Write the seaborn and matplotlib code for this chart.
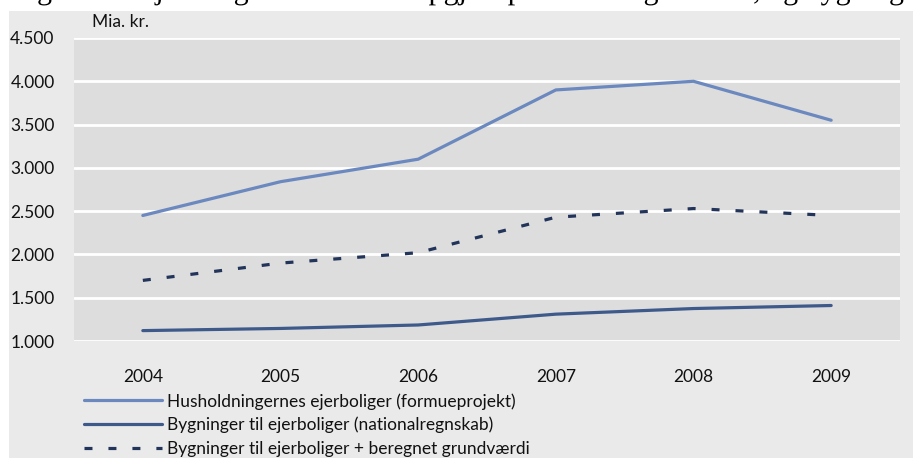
import matplotlib
matplotlib.use("Agg")
import matplotlib.pyplot as plt
from matplotlib.patches import Rectangle, PathPatch
from matplotlib.lines import Line2D
from matplotlib.textpath import TextPath
from matplotlib.font_manager import FontProperties
from matplotlib.transforms import Affine2D
import seaborn as sns
import pandas as pd

# Data (mia. kr.)
years = ["2004", "2005", "2006", "2007", "2008", "2009"]
husholdninger = [2450, 2840, 3100, 3900, 4000, 3550]
bygninger = [1120, 1145, 1185, 1310, 1375, 1410]
bygninger_grund = [1700, 1900, 2020, 2430, 2530, 2450]

series_names = [
    "Husholdningernes ejerboliger (formueprojekt)",
    "Bygninger til ejerboliger (nationalregnskab)",
    "Bygninger til ejerboliger + beregnet grundværdi",
]
y_ticks = [1000, 1500, 2000, 2500, 3000, 3500, 4000, 4500]
y_tick_labels = ["1.000", "1.500", "2.000", "2.500", "3.000", "3.500", "4.000", "4.500"]
caption = "Figur 2.1  Ejerboligernes formue opgjort på forskellige måder, og bygninger til ejerboliger"

df = pd.DataFrame({
    "år": years * 3,
    "værdi": husholdninger + bygninger + bygninger_grund,
    "serie": [series_names[0]] * 6 + [series_names[1]] * 6 + [series_names[2]] * 6,
})

sns.set_theme(style="white")
plt.rcParams["font.family"] = ["Lato", "DejaVu Sans"]

W, H = 913, 458
fig = plt.figure(figsize=(W / 100, H / 100), dpi=100, facecolor="white")

# grey panel behind the chart
panel = Rectangle((9 / W, 0), 1 - 9 / W, (H - 11) / H,
                  transform=fig.transFigure, facecolor="#eaeaea",
                  edgecolor="none", zorder=-5)
fig.patches.append(panel)

# caption line running off the top edge; drawn as a path so it clips cleanly
cap_path = TextPath((0, 0), caption, size=30,
                    prop=FontProperties(family="Liberation Serif"))
cap_patch = PathPatch(cap_path, facecolor="black", edgecolor="none", lw=0,
                      transform=Affine2D().translate(12, H + 1), zorder=-10)
fig.patches.append(cap_patch)

ax = fig.add_axes([74 / W, 1 - 341 / H, (900 - 74) / W, (341 - 38) / H])
ax.set_zorder(2)
ax.set_facecolor("#dddddd")

palette = {series_names[0]: "#6b89bf", series_names[1]: "#3e5a8b", series_names[2]: "#22345a"}
sns.lineplot(data=df, x="år", y="værdi", hue="serie", style="serie",
             palette=palette, dashes={series_names[0]: "", series_names[1]: "",
                                      series_names[2]: (2.5, 5)},
             linewidth=2.3, ax=ax, sort=False, legend=False)
for ln in ax.lines:
    ln.set_dash_capstyle("butt")
    ln.set_solid_capstyle("round")

ax.set_xlim(-0.5, 5.5)
ax.set_ylim(1000, 4500)
ax.set_yticks(y_ticks)
ax.set_yticklabels(y_tick_labels)
ax.yaxis.grid(True, color="white", linewidth=2)
ax.xaxis.grid(False)
ax.set_axisbelow(True)
for s in ax.spines.values():
    s.set_visible(False)
ax.tick_params(axis="y", length=0, pad=14, labelsize=12.5, colors="#111111")
ax.tick_params(axis="x", length=0, pad=20, labelsize=12.5, colors="#111111")
ax.set_xlabel("")
ax.set_ylabel("")
ax.text(18 / 826, 1.025, "Mia. kr.", transform=ax.transAxes, fontsize=12.5,
        color="#111111", va="bottom", ha="left")

handles = [
    Line2D([], [], color=palette[series_names[0]], lw=2.3),
    Line2D([], [], color=palette[series_names[1]], lw=2.3),
    Line2D([], [], color=palette[series_names[2]], lw=2.3, dashes=(2.5, 5), dash_capstyle="butt"),
]
fig.legend(handles, series_names, loc="upper left",
           bbox_to_anchor=(84 / W, 1 - 393 / H), frameon=False, fontsize=12.5,
           handlelength=4.5, handletextpad=0.3, labelspacing=0.42,
           borderaxespad=0, borderpad=0, labelcolor="#111111")

fig.savefig("out.png", dpi=100, facecolor="white")
